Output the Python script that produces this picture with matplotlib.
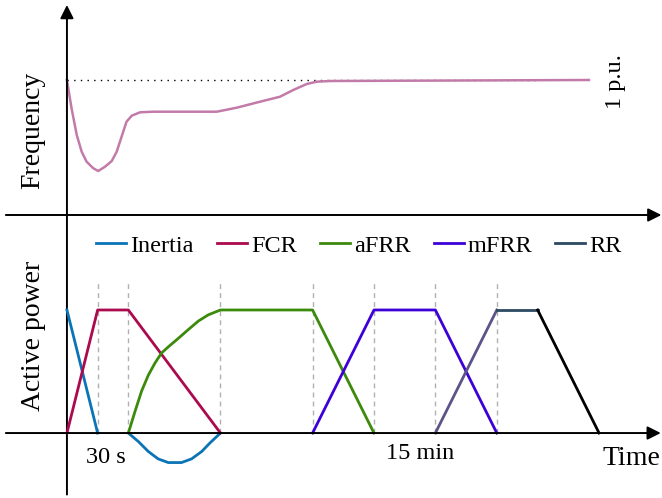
import matplotlib.pyplot as plt

plt.rcParams['font.family'] = ['Liberation Serif', 'DejaVu Serif']

# time axis in arbitrary units (dashed markers fall on whole steps)
t_marks = [1, 2, 5, 8, 10, 12, 14]

# frequency response (p.u.)
t_freq = [0, 0.15, 0.32, 0.48, 0.64, 0.86, 1.02, 1.24, 1.46, 1.62, 1.78, 1.94,
          2.11, 2.38, 2.81, 4.88, 5.53, 6.29, 6.94, 7.37, 7.81, 8.13, 8.57, 17.0]
f_freq = [1.0, 0.99717, 0.9945, 0.99283, 0.99183, 0.99117, 0.9909, 0.99133,
          0.9919, 0.99283, 0.99433, 0.99583, 0.99643, 0.99677, 0.99683, 0.99683,
          0.99723, 0.99783, 0.99833, 0.9990, 0.9996, 0.99983, 0.9999, 1.0]
t_nominal = [0, 15.44]

# active power contributions (p.u.)
t_inertia = [0, 1]
p_inertia = [1, 0]
t_inertia_dip = [2.0, 2.33, 2.65, 2.97, 3.30, 3.73, 4.06, 4.39, 4.66, 5.0]
p_inertia_dip = [0, -0.07, -0.15, -0.21, -0.24, -0.24, -0.21, -0.15, -0.08, 0]

t_fcr = [0, 1, 2, 5]
p_fcr = [0, 1, 1, 0]

t_afrr = [2.0, 2.21, 2.43, 2.65, 2.87, 3.08, 3.30, 3.63, 3.95, 4.28, 4.60, 5.0,
          8.0, 10.0]
p_afrr = [0, 0.17, 0.34, 0.47, 0.57, 0.65, 0.70, 0.77, 0.84, 0.91, 0.96, 1.0,
          1.0, 0]

t_mfrr = [8, 10, 12, 14]
p_mfrr = [0, 1, 1, 0]

t_rr_up = [12, 14]
p_rr_up = [0, 1]
t_rr = [14, 15.33]
p_rr = [1, 1]
t_rr_down = [15.33, 17.33]
p_rr_down = [1, 0]

c_inertia = '#0a74b6'
c_fcr = '#ab0a4e'
c_afrr = '#3c8a0c'
c_mfrr = '#3d00d6'
c_rr = '#2c4a62'

xlim = (-2.18, 19.38)

fig = plt.figure(figsize=(6.62, 4.98), dpi=100)
ax_f = fig.add_axes([0, 1 - 230 / 498, 1, 230 / 498])
ax_p = fig.add_axes([0, 0, 1, 268 / 498])
for ax in (ax_f, ax_p):
    ax.set_xlim(*xlim)
    ax.axis('off')
ax_f.set_ylim(0.985, 1.008)
ax_p.set_ylim(-0.528, 1.65)

arrow = dict(arrowstyle='-|>', color='black', lw=1.4, mutation_scale=20,
             shrinkA=0, shrinkB=0)

# axes drawn as arrows
ax_f.annotate('', xy=(0, 1.0075), xycoords=ax_f.transData,
              xytext=(0, -0.50), textcoords=ax_p.transData, arrowprops=arrow)
ax_f.annotate('', xy=(19.36, 0.9865), xytext=(-1.99, 0.9865), arrowprops=arrow)
ax_p.annotate('', xy=(19.34, 0), xytext=(-1.99, 0), arrowprops=arrow)

# upper panel: frequency
ax_f.plot(t_nominal, [1, 1], color='black', lw=1.0, linestyle=(0, (1, 3.8)))
ax_f.plot(t_freq, f_freq, color='#c27ba9', lw=1.8, solid_joinstyle='round')
ax_f.text(-1.1, 0.995, 'Frequency', rotation=90, ha='center', va='center', fontsize=20)
ax_f.text(17.85, 0.9998, '1 p.u.', rotation=90, ha='center', va='center', fontsize=17.5)

# lower panel: active power
for t in t_marks:
    ax_p.plot([t, t], [0, 1.24], color='#b0b0b0', lw=1.0, linestyle=(0, (3.5, 3)))

style = dict(lw=2.0, solid_joinstyle='round')
ax_p.plot(t_inertia, p_inertia, color=c_inertia, label='Inertia', **style)
ax_p.plot(t_inertia_dip, p_inertia_dip, color=c_inertia, **style)
ax_p.plot(t_fcr, p_fcr, color=c_fcr, label='FCR', **style)
ax_p.plot(t_afrr, p_afrr, color=c_afrr, label='aFRR', **style)
ax_p.plot(t_mfrr, p_mfrr, color=c_mfrr, label='mFRR', **style)
ax_p.plot(t_rr_up, p_rr_up, color='#5b5488', **style)
ax_p.plot(t_rr, p_rr, color=c_rr, label='RR', **style)
ax_p.plot(t_rr_down, p_rr_down, color='black', **style)

ax_p.text(-1.1, 0.79, 'Active power', rotation=90, ha='center', va='center', fontsize=20)
ax_p.text(1.27, -0.20, '30 s', ha='center', va='center', fontsize=17.5)
ax_p.text(11.5, -0.17, '15 min', ha='center', va='center', fontsize=17.5)
ax_p.text(18.4, -0.21, 'Time', ha='center', va='center', fontsize=20)

ax_p.legend(loc='center', bbox_to_anchor=(359 / 662, 1 - 246 / 498),
            bbox_transform=fig.transFigure, ncol=5, frameon=False,
            fontsize=17.5, handlelength=1.23, handletextpad=0.17,
            columnspacing=0.95, borderpad=0, borderaxespad=0)

fig.savefig('out.png', dpi=100)
